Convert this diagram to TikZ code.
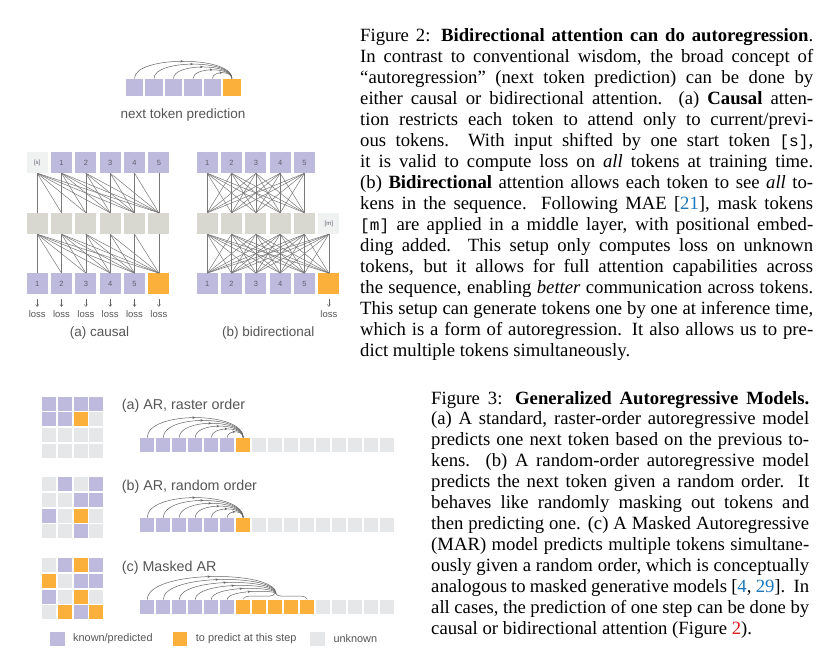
\documentclass[tikz,border=0pt]{standalone}
\usepackage{fontspec}
\setmainfont{Liberation Serif}
\newfontfamily\dsans{Liberation Sans}
\newfontfamily\capmono{Liberation Mono}[Scale=0.86]
\usetikzlibrary{decorations.markings,decorations.pathreplacing,arrows.meta}
\definecolor{kp}{RGB}{190,186,222}
\definecolor{ko}{RGB}{251,176,59}
\definecolor{ku}{RGB}{230,231,233}
\definecolor{tmid}{RGB}{216,216,208}
\definecolor{tlight}{RGB}{240,241,241}
\definecolor{lblgray}{RGB}{85,85,85}
\definecolor{numgray}{RGB}{95,95,110}
\definecolor{linkgray}{RGB}{120,120,120}
\definecolor{arcgray}{RGB}{100,100,100}
\definecolor{citeblue}{RGB}{30,120,190}
\definecolor{citered}{RGB}{225,30,30}
\begin{document}
\begin{tikzpicture}[x=1pt,y=-1pt,
  big/.style={rectangle,inner sep=0pt,minimum size=21pt,text=numgray,font=\dsans\fontsize{7.5}{8}\selectfont},
  ntp/.style={rectangle,inner sep=0pt,minimum size=17.6pt},
  sq/.style={rectangle,inner sep=0pt,minimum size=14.4pt},
  gsq/.style={rectangle,inner sep=0pt,minimum size=14pt},
  link/.style={draw=linkgray,line width=0.5pt},
  arcst/.style={draw=arcgray,line width=0.5pt,postaction={decorate},
    decoration={markings,mark=at position 0.5 with {\arrow{Stealth[length=2.8pt,width=2.6pt]}}}},
  lossarr/.style={draw=arcgray,line width=0.5pt,-{Straight Barb[length=2pt,width=3.2pt]}},
  lbl/.style={font=\dsans\fontsize{13.5}{15}\selectfont,text=lblgray,inner sep=0pt},
  sublbl/.style={font=\dsans\fontsize{14.3}{16}\selectfont,text=lblgray,inner sep=0pt,anchor=base west},
  losst/.style={font=\dsans\fontsize{9.5}{10}\selectfont,text=lblgray,inner sep=0pt},
  legt/.style={font=\dsans\fontsize{10.9}{12}\selectfont,text=lblgray,inner sep=0pt,anchor=west},
  capline/.style={font=\fontsize{18.7}{21}\selectfont,inner sep=0pt,anchor=base west}]
\fill[white] (0,0) rectangle (830,664);
\useasboundingbox (0,0) rectangle (830,664);

% ---------- next token prediction ----------
\foreach \i in {0,...,4} \node[ntp,fill=kp] (np\i) at ({134.5+19.5*\i},87.5) {};
\node[ntp,fill=ko] (np5) at (232,87.5) {};
\foreach \i in {0,...,4} {
  \pgfmathsetmacro\h{4+19*(5-\i)/5}
  \draw[arcst] (np\i.north) .. controls +(0,-\h) and +(0,-\h) .. (np5.north);
}
\node[lbl] (ntpl) at (183,115) {next token prediction};

% ---------- (a) causal ----------
\node[big,fill=tlight,font=\dsans\fontsize{6}{7}\selectfont] (a0) at (37.2,162.5) {[s]};
\foreach \i in {1,...,5} \node[big,fill=kp] (a\i) at ({37.2+24.33*\i},162.5) {\i};
\foreach \i in {0,...,5} \node[big,fill=tmid] (am\i) at ({37.2+24.33*\i},223.5) {};
\foreach \i in {0,...,4} {
  \pgfmathtruncatemacro\n{\i+1}
  \node[big,fill=kp] (ab\i) at ({37.2+24.33*\i},283.8) {\n};
}
\node[big,fill=ko] (ab5) at ({37.2+24.33*5},283.8) {};
\foreach \j in {0,...,5} \foreach \i in {0,...,\j} {
  \draw[link] (a\i.south) -- (am\j.north);
  \draw[link] (am\i.south) -- (ab\j.north);
}
\foreach \i in {0,...,5} {
  \node[losst] (al\i) at ({37.2+24.33*\i},314) {loss};
  \draw[lossarr] ([yshift=-4.5pt]ab\i.south) -- ([yshift=3.5pt]al\i.north);
}
\node[lbl] (capa) at (99.5,333) {(a) causal};

% ---------- (b) bidirectional ----------
\foreach \i in {1,...,5} \node[big,fill=kp] (b\i) at ({207.2+24.33*(\i-1)},162.5) {\i};
\foreach \i in {1,...,5} \node[big,fill=tmid] (bm\i) at ({207.2+24.33*(\i-1)},223.5) {};
\node[big,fill=tlight,font=\dsans\fontsize{6}{7}\selectfont] (bm6) at ({207.2+24.33*5},223.5) {[m]};
\foreach \i in {1,...,5} \node[big,fill=kp] (bb\i) at ({207.2+24.33*(\i-1)},283.8) {\i};
\node[big,fill=ko] (bb6) at ({207.2+24.33*5},283.8) {};
\foreach \i in {1,...,5} \foreach \j in {1,...,5} \draw[link] (b\i.south) -- (bm\j.north);
\foreach \i in {1,...,6} \foreach \j in {1,...,6} \draw[link] (bm\i.south) -- (bb\j.north);
\node[losst] (bl) at ({207.2+24.33*5},314) {loss};
\draw[lossarr] ([yshift=-4.5pt]bb6.south) -- ([yshift=3.5pt]bl.north);
\node[lbl] (capb) at (268.3,333) {(b) bidirectional};

% ---------- Figure 3 grids ----------
\foreach \c [count=\k from 0] in {kp,kp,kp,kp,kp,kp,ko,ku,ku,ku,ku,ku,ku,ku,ku,ku} {
  \pgfmathtruncatemacro\r{int(\k/4)}\pgfmathtruncatemacro\cc{mod(\k,4)}
  \node[gsq,fill=\c] (ga\k) at ({49.3+15.67*\cc},{403.7+15.67*\r}) {};
}
\foreach \c [count=\k from 0] in {ku,kp,ku,kp,ku,ku,kp,kp,kp,ku,ko,ku,ku,ku,kp,ku} {
  \pgfmathtruncatemacro\r{int(\k/4)}\pgfmathtruncatemacro\cc{mod(\k,4)}
  \node[gsq,fill=\c] (gb\k) at ({49.3+15.67*\cc},{484.3+15.67*\r}) {};
}
\foreach \c [count=\k from 0] in {ku,kp,ko,kp,ko,ku,kp,kp,kp,ku,ko,ku,ku,ko,kp,ko} {
  \pgfmathtruncatemacro\r{int(\k/4)}\pgfmathtruncatemacro\cc{mod(\k,4)}
  \node[gsq,fill=\c] (gc\k) at ({49.3+15.67*\cc},{565.3+15.67*\r}) {};
}

% ---------- Figure 3 sequences ----------
\node[sublbl] (la) at (121.7,409) {(a) AR, raster order};
\foreach \c [count=\k from 0] in {kp,kp,kp,kp,kp,kp,ko,ku,ku,ku,ku,ku,ku,ku,ku,ku}
  \node[sq,fill=\c] (sa\k) at ({147.25+16*\k},445) {};
\foreach \k in {0,...,5} {
  \pgfmathsetmacro\h{4+22.7*(6-\k)/6}
  \draw[arcst] (sa\k.north) .. controls +(0,-\h) and +(0,-\h) .. (sa6.north);
}

\node[sublbl] (lb) at (121.7,490) {(b) AR, random order};
\foreach \c [count=\k from 0] in {kp,kp,kp,kp,kp,kp,ko,ku,ku,ku,ku,ku,ku,ku,ku,ku}
  \node[sq,fill=\c] (sb\k) at ({147.25+16*\k},525) {};
\foreach \k in {0,...,5} {
  \pgfmathsetmacro\h{4+22.7*(6-\k)/6}
  \draw[arcst] (sb\k.north) .. controls +(0,-\h) and +(0,-\h) .. (sb6.north);
}

\node[sublbl] (lc) at (121.7,571) {(c) Masked AR};
\foreach \c [count=\k from 0] in {kp,kp,kp,kp,kp,kp,ko,ko,ko,ko,ko,ku,ku,ku,ku,ku}
  \node[sq,fill=\c] (sc\k) at ({147.25+16*\k},607) {};
\coordinate (btip) at (276,593.5);
\draw[draw=arcgray,line width=0.5pt,decorate,decoration={brace,amplitude=6pt}]
  ([yshift=0.5pt]sc6.north) -- ([yshift=0.5pt]sc10.north);
\foreach \k in {0,...,5} {
  \pgfmathsetmacro\h{10+4*(5-\k)}
  \pgfmathsetmacro\g{\h-6.5}
  \draw[arcst] (sc\k.north) .. controls +(0,-\h) and +(0,-\g) .. (btip);
}

% ---------- legend ----------
\node[sq,fill=kp] (lg1) at (57.5,639) {};
\node[legt] (lt1) at (73,639) {known/predicted};
\node[sq,fill=ko] (lg2) at (180,639) {};
\node[legt] (lt2) at (195.7,639) {to predict at this step};
\node[sq,fill=ku] (lg3) at (317.5,639) {};
\node[legt] (lt3) at (333.3,639) {unknown};

% ---------- Figure 2 caption ----------
\node[capline] (f2l1) at (360,41) {\makebox[453pt][s]{Figure 2: \textbf{Bidirectional attention can do autoregression}.}};
\node[capline] (f2l2) at (360,62) {\makebox[453pt][s]{In contrast to conventional wisdom, the broad concept of}};
\node[capline] (f2l3) at (360,83) {\makebox[453pt][s]{“autoregression” (next token prediction) can be done by}};
\node[capline] (f2l4) at (360,104) {\makebox[453pt][s]{either causal or bidirectional attention.\ \ (a) \textbf{Causal} atten-}};
\node[capline] (f2l5) at (360,125) {\makebox[453pt][s]{tion restricts each token to attend only to current/previ-}};
\node[capline] (f2l6) at (360,146) {\makebox[453pt][s]{ous tokens.\ \ With input shifted by one start token {\capmono [s]},}};
\node[capline] (f2l7) at (360,167) {\makebox[453pt][s]{it is valid to compute loss on \textit{all} tokens at training time.}};
\node[capline] (f2l8) at (360,188) {\makebox[453pt][s]{(b) \textbf{Bidirectional} attention allows each token to see \textit{all} to-}};
\node[capline] (f2l9) at (360,209) {\makebox[453pt][s]{kens in the sequence.\ \ Following MAE [\textcolor{citeblue}{21}], mask tokens}};
\node[capline] (f2l10) at (360,230) {\makebox[453pt][s]{{\capmono [m]} are applied in a middle layer, with positional embed-}};
\node[capline] (f2l11) at (360,251) {\makebox[453pt][s]{ding added.\ \ This setup only computes loss on unknown}};
\node[capline] (f2l12) at (360,272) {\makebox[453pt][s]{tokens, but it allows for full attention capabilities across}};
\node[capline] (f2l13) at (360,293) {\makebox[453pt][s]{the sequence, enabling \textit{better} communication across tokens.}};
\node[capline] (f2l14) at (360,314) {\makebox[453pt][s]{This setup can generate tokens one by one at inference time,}};
\node[capline] (f2l15) at (360,335) {\makebox[453pt][s]{which is a form of autoregression. It also allows us to pre-}};
\node[capline] (f2l16) at (360,356) {dict multiple tokens simultaneously.};

% ---------- Figure 3 caption ----------
\node[capline] (f3l1) at (431,404) {\makebox[378pt][s]{Figure 3: \textbf{Generalized Autoregressive Models.}}};
\node[capline] (f3l2) at (431,424.9) {\makebox[378pt][s]{(a) A standard, raster-order autoregressive model}};
\node[capline] (f3l3) at (431,445.8) {\makebox[378pt][s]{predicts one next token based on the previous to-}};
\node[capline] (f3l4) at (431,466.7) {\makebox[378pt][s]{kens.\ \ (b) A random-order autoregressive model}};
\node[capline] (f3l5) at (431,487.6) {\makebox[378pt][s]{predicts the next token given a random order.\ \ It}};
\node[capline] (f3l6) at (431,508.5) {\makebox[378pt][s]{behaves like randomly masking out tokens and}};
\node[capline] (f3l7) at (431,529.4) {\makebox[378pt][s]{then predicting one. (c) A Masked Autoregressive}};
\node[capline] (f3l8) at (431,550.3) {\makebox[378pt][s]{(MAR) model predicts multiple tokens simultane-}};
\node[capline] (f3l9) at (431,571.2) {\makebox[378pt][s]{ously given a random order, which is conceptually}};
\node[capline] (f3l10) at (431,592.1) {\makebox[378pt][s]{analogous to masked generative models [\textcolor{citeblue}{4}, \textcolor{citeblue}{29}].\ \ In}};
\node[capline] (f3l11) at (431,613) {\makebox[378pt][s]{all cases, the prediction of one step can be done by}};
\node[capline] (f3l12) at (431,634) {causal or bidirectional attention (Figure \textcolor{citered}{2}).};
\end{tikzpicture}
\end{document}
